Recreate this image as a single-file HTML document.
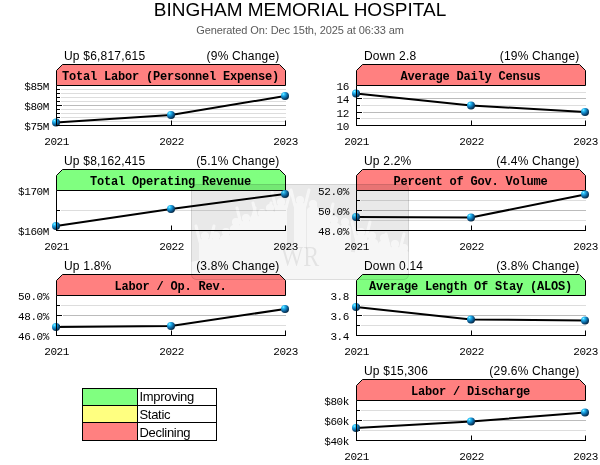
<!DOCTYPE html>
<html><head><meta charset="utf-8"><style>
html,body{margin:0;padding:0;background:#fff;width:600px;height:465px;overflow:hidden}
svg{display:block;will-change:transform}
.s12{font-family:"Liberation Sans",sans-serif;font-size:12px;letter-spacing:0.2px;fill:#000}
.m10{font-family:"Liberation Mono",monospace;font-size:11px;letter-spacing:-0.4px;fill:#000}
.hdr{font-family:"Liberation Mono",monospace;font-size:12px;letter-spacing:-0.2px;font-weight:bold;fill:#000}
.ttl{font-family:"Liberation Sans",sans-serif;font-size:19px;fill:#000}
.lg{font-family:"Liberation Sans",sans-serif;font-size:13px;letter-spacing:-0.3px;fill:#000}
.gen{font-family:"Liberation Sans",sans-serif;font-size:11px;letter-spacing:-0.1px;fill:#5a5a5a}
</style></head><body>
<svg width="600" height="465" viewBox="0 0 600 465">
<defs>
<radialGradient id="ball" cx="0.32" cy="0.3" r="0.8" fx="0.3" fy="0.25">
<stop offset="0" stop-color="#90ffff"/>
<stop offset="0.15" stop-color="#38ccff"/>
<stop offset="0.4" stop-color="#1590d0"/>
<stop offset="0.7" stop-color="#0a4f80"/>
<stop offset="1" stop-color="#001a30"/>
</radialGradient>
</defs>
<text class="ttl" x="300" y="15.7" text-anchor="middle">BINGHAM MEMORIAL HOSPITAL</text>
<text class="gen" x="300" y="33.5" text-anchor="middle">Generated On: Dec 15th, 2025 at 06:33 am</text>
<text class="s12" x="64" y="60">Up $6,817,615</text>
<text class="s12" x="279.5" y="60" text-anchor="end">(9% Change)</text>
<line x1="61" y1="89.5" x2="286" y2="89.5" stroke="#dddddd"/>
<line x1="56" y1="89.5" x2="60" y2="89.5" stroke="#000"/>
<line x1="61" y1="93.5" x2="286" y2="93.5" stroke="#dddddd"/>
<line x1="56" y1="93.5" x2="60" y2="93.5" stroke="#000"/>
<line x1="61" y1="97.5" x2="286" y2="97.5" stroke="#dddddd"/>
<line x1="56" y1="97.5" x2="60" y2="97.5" stroke="#000"/>
<line x1="61" y1="101.5" x2="286" y2="101.5" stroke="#dddddd"/>
<line x1="56" y1="101.5" x2="60" y2="101.5" stroke="#000"/>
<line x1="61" y1="109.5" x2="286" y2="109.5" stroke="#dddddd"/>
<line x1="56" y1="109.5" x2="60" y2="109.5" stroke="#000"/>
<line x1="61" y1="113.5" x2="286" y2="113.5" stroke="#dddddd"/>
<line x1="56" y1="113.5" x2="60" y2="113.5" stroke="#000"/>
<line x1="61" y1="117.5" x2="286" y2="117.5" stroke="#dddddd"/>
<line x1="56" y1="117.5" x2="60" y2="117.5" stroke="#000"/>
<line x1="61" y1="121.5" x2="286" y2="121.5" stroke="#dddddd"/>
<line x1="56" y1="121.5" x2="60" y2="121.5" stroke="#000"/>
<line x1="63" y1="105.5" x2="286" y2="105.5" stroke="#bbbbbb"/>
<line x1="56" y1="105.5" x2="62" y2="105.5" stroke="#000"/>
<path d="M56.5 70.5 L62.5 64.5 H279.5 L285.5 70.5 V85.5 H56.5 Z" fill="#ff8080" stroke="#000"/>
<text class="hdr" x="170.5" y="79.5" text-anchor="middle">Total Labor (Personnel Expense)</text>
<text class="m10" x="49" y="90" text-anchor="end">$85M</text>
<text class="m10" x="49" y="110" text-anchor="end">$80M</text>
<text class="m10" x="49" y="130" text-anchor="end">$75M</text>
<text class="m10" x="56.6" y="144.5" text-anchor="middle">2021</text>
<text class="m10" x="171.6" y="144.5" text-anchor="middle">2022</text>
<text class="m10" x="285.6" y="144.5" text-anchor="middle">2023</text>
<polyline points="56,122.5 171,115 285,96" fill="none" stroke="#000" stroke-width="2"/>
<circle cx="56" cy="122.5" r="4" fill="url(#ball)"/>
<circle cx="171" cy="115" r="4" fill="url(#ball)"/>
<circle cx="285" cy="96" r="4" fill="url(#ball)"/>
<path d="M56.5 85.5 V125.5 M56 125.5 H286 M171.5 125.5 V120.5 M285.5 125.5 V120.5" stroke="#000" fill="none"/>
<text class="s12" x="64" y="165">Up $8,162,415</text>
<text class="s12" x="279.5" y="165" text-anchor="end">(5.1% Change)</text>
<line x1="61" y1="210.5" x2="286" y2="210.5" stroke="#dddddd"/>
<line x1="56" y1="210.5" x2="60" y2="210.5" stroke="#000"/>
<path d="M56.5 175.5 L62.5 169.5 H279.5 L285.5 175.5 V190.5 H56.5 Z" fill="#80ff80" stroke="#000"/>
<text class="hdr" x="170.5" y="184.5" text-anchor="middle">Total Operating Revenue</text>
<text class="m10" x="49" y="195" text-anchor="end">$170M</text>
<text class="m10" x="49" y="235" text-anchor="end">$160M</text>
<text class="m10" x="56.6" y="249.5" text-anchor="middle">2021</text>
<text class="m10" x="171.6" y="249.5" text-anchor="middle">2022</text>
<text class="m10" x="285.6" y="249.5" text-anchor="middle">2023</text>
<polyline points="56,226 171,209 285,194" fill="none" stroke="#000" stroke-width="2"/>
<circle cx="56" cy="226" r="4" fill="url(#ball)"/>
<circle cx="171" cy="209" r="4" fill="url(#ball)"/>
<circle cx="285" cy="194" r="4" fill="url(#ball)"/>
<path d="M56.5 190.5 V230.5 M56 230.5 H286 M171.5 230.5 V225.5 M285.5 230.5 V225.5" stroke="#000" fill="none"/>
<text class="s12" x="64" y="270">Up 1.8%</text>
<text class="s12" x="279.5" y="270" text-anchor="end">(3.8% Change)</text>
<line x1="61" y1="305.5" x2="286" y2="305.5" stroke="#dddddd"/>
<line x1="56" y1="305.5" x2="60" y2="305.5" stroke="#000"/>
<line x1="61" y1="325.5" x2="286" y2="325.5" stroke="#dddddd"/>
<line x1="56" y1="325.5" x2="60" y2="325.5" stroke="#000"/>
<line x1="63" y1="315.5" x2="286" y2="315.5" stroke="#bbbbbb"/>
<line x1="56" y1="315.5" x2="62" y2="315.5" stroke="#000"/>
<path d="M56.5 280.5 L62.5 274.5 H279.5 L285.5 280.5 V295.5 H56.5 Z" fill="#ff8080" stroke="#000"/>
<text class="hdr" x="170.5" y="289.5" text-anchor="middle">Labor / Op. Rev.</text>
<text class="m10" x="49" y="300" text-anchor="end">50.0%</text>
<text class="m10" x="49" y="320" text-anchor="end">48.0%</text>
<text class="m10" x="49" y="340" text-anchor="end">46.0%</text>
<text class="m10" x="56.6" y="354.5" text-anchor="middle">2021</text>
<text class="m10" x="171.6" y="354.5" text-anchor="middle">2022</text>
<text class="m10" x="285.6" y="354.5" text-anchor="middle">2023</text>
<polyline points="56,327 171,326 285,309" fill="none" stroke="#000" stroke-width="2"/>
<circle cx="56" cy="327" r="4" fill="url(#ball)"/>
<circle cx="171" cy="326" r="4" fill="url(#ball)"/>
<circle cx="285" cy="309" r="4" fill="url(#ball)"/>
<path d="M56.5 295.5 V335.5 M56 335.5 H286 M171.5 335.5 V330.5 M285.5 335.5 V330.5" stroke="#000" fill="none"/>
<text class="s12" x="364" y="60">Down 2.8</text>
<text class="s12" x="579.5" y="60" text-anchor="end">(19% Change)</text>
<line x1="361" y1="92.5" x2="586" y2="92.5" stroke="#dddddd"/>
<line x1="356" y1="92.5" x2="360" y2="92.5" stroke="#000"/>
<line x1="361" y1="105.5" x2="586" y2="105.5" stroke="#dddddd"/>
<line x1="356" y1="105.5" x2="360" y2="105.5" stroke="#000"/>
<line x1="361" y1="118.5" x2="586" y2="118.5" stroke="#dddddd"/>
<line x1="356" y1="118.5" x2="360" y2="118.5" stroke="#000"/>
<line x1="363" y1="98.5" x2="586" y2="98.5" stroke="#bbbbbb"/>
<line x1="356" y1="98.5" x2="362" y2="98.5" stroke="#000"/>
<line x1="363" y1="112.5" x2="586" y2="112.5" stroke="#bbbbbb"/>
<line x1="356" y1="112.5" x2="362" y2="112.5" stroke="#000"/>
<path d="M356.5 70.5 L362.5 64.5 H579.5 L585.5 70.5 V85.5 H356.5 Z" fill="#ff8080" stroke="#000"/>
<text class="hdr" x="470.5" y="79.5" text-anchor="middle">Average Daily Census</text>
<text class="m10" x="349" y="90" text-anchor="end">16</text>
<text class="m10" x="349" y="103" text-anchor="end">14</text>
<text class="m10" x="349" y="117" text-anchor="end">12</text>
<text class="m10" x="349" y="130" text-anchor="end">10</text>
<text class="m10" x="356.6" y="144.5" text-anchor="middle">2021</text>
<text class="m10" x="471.6" y="144.5" text-anchor="middle">2022</text>
<text class="m10" x="585.6" y="144.5" text-anchor="middle">2023</text>
<polyline points="356,93.5 471,105.5 585,112" fill="none" stroke="#000" stroke-width="2"/>
<circle cx="356" cy="93.5" r="4" fill="url(#ball)"/>
<circle cx="471" cy="105.5" r="4" fill="url(#ball)"/>
<circle cx="585" cy="112" r="4" fill="url(#ball)"/>
<path d="M356.5 85.5 V125.5 M356 125.5 H586 M471.5 125.5 V120.5 M585.5 125.5 V120.5" stroke="#000" fill="none"/>
<text class="s12" x="364" y="165">Up 2.2%</text>
<text class="s12" x="579.5" y="165" text-anchor="end">(4.4% Change)</text>
<line x1="361" y1="200.5" x2="586" y2="200.5" stroke="#dddddd"/>
<line x1="356" y1="200.5" x2="360" y2="200.5" stroke="#000"/>
<line x1="361" y1="220.5" x2="586" y2="220.5" stroke="#dddddd"/>
<line x1="356" y1="220.5" x2="360" y2="220.5" stroke="#000"/>
<line x1="363" y1="210.5" x2="586" y2="210.5" stroke="#bbbbbb"/>
<line x1="356" y1="210.5" x2="362" y2="210.5" stroke="#000"/>
<path d="M356.5 175.5 L362.5 169.5 H579.5 L585.5 175.5 V190.5 H356.5 Z" fill="#ff8080" stroke="#000"/>
<text class="hdr" x="470.5" y="184.5" text-anchor="middle">Percent of Gov. Volume</text>
<text class="m10" x="349" y="195" text-anchor="end">52.0%</text>
<text class="m10" x="349" y="215" text-anchor="end">50.0%</text>
<text class="m10" x="349" y="235" text-anchor="end">48.0%</text>
<text class="m10" x="356.6" y="249.5" text-anchor="middle">2021</text>
<text class="m10" x="471.6" y="249.5" text-anchor="middle">2022</text>
<text class="m10" x="585.6" y="249.5" text-anchor="middle">2023</text>
<polyline points="356,217 471,217.5 585,194.5" fill="none" stroke="#000" stroke-width="2"/>
<circle cx="356" cy="217" r="4" fill="url(#ball)"/>
<circle cx="471" cy="217.5" r="4" fill="url(#ball)"/>
<circle cx="585" cy="194.5" r="4" fill="url(#ball)"/>
<path d="M356.5 190.5 V230.5 M356 230.5 H586 M471.5 230.5 V225.5 M585.5 230.5 V225.5" stroke="#000" fill="none"/>
<text class="s12" x="364" y="270">Down 0.14</text>
<text class="s12" x="579.5" y="270" text-anchor="end">(3.8% Change)</text>
<line x1="361" y1="305.5" x2="586" y2="305.5" stroke="#dddddd"/>
<line x1="356" y1="305.5" x2="360" y2="305.5" stroke="#000"/>
<line x1="361" y1="325.5" x2="586" y2="325.5" stroke="#dddddd"/>
<line x1="356" y1="325.5" x2="360" y2="325.5" stroke="#000"/>
<line x1="363" y1="315.5" x2="586" y2="315.5" stroke="#bbbbbb"/>
<line x1="356" y1="315.5" x2="362" y2="315.5" stroke="#000"/>
<path d="M356.5 280.5 L362.5 274.5 H579.5 L585.5 280.5 V295.5 H356.5 Z" fill="#80ff80" stroke="#000"/>
<text class="hdr" x="470.5" y="289.5" text-anchor="middle">Average Length Of Stay (ALOS)</text>
<text class="m10" x="349" y="300" text-anchor="end">3.8</text>
<text class="m10" x="349" y="320" text-anchor="end">3.6</text>
<text class="m10" x="349" y="340" text-anchor="end">3.4</text>
<text class="m10" x="356.6" y="354.5" text-anchor="middle">2021</text>
<text class="m10" x="471.6" y="354.5" text-anchor="middle">2022</text>
<text class="m10" x="585.6" y="354.5" text-anchor="middle">2023</text>
<polyline points="356,307 471,319.5 585,320.5" fill="none" stroke="#000" stroke-width="2"/>
<circle cx="356" cy="307" r="4" fill="url(#ball)"/>
<circle cx="471" cy="319.5" r="4" fill="url(#ball)"/>
<circle cx="585" cy="320.5" r="4" fill="url(#ball)"/>
<path d="M356.5 295.5 V335.5 M356 335.5 H586 M471.5 335.5 V330.5 M585.5 335.5 V330.5" stroke="#000" fill="none"/>
<text class="s12" x="364" y="375">Up $15,306</text>
<text class="s12" x="579.5" y="375" text-anchor="end">(29.6% Change)</text>
<line x1="361" y1="410.5" x2="586" y2="410.5" stroke="#dddddd"/>
<line x1="356" y1="410.5" x2="360" y2="410.5" stroke="#000"/>
<line x1="361" y1="430.5" x2="586" y2="430.5" stroke="#dddddd"/>
<line x1="356" y1="430.5" x2="360" y2="430.5" stroke="#000"/>
<line x1="363" y1="420.5" x2="586" y2="420.5" stroke="#bbbbbb"/>
<line x1="356" y1="420.5" x2="362" y2="420.5" stroke="#000"/>
<path d="M356.5 385.5 L362.5 379.5 H579.5 L585.5 385.5 V400.5 H356.5 Z" fill="#ff8080" stroke="#000"/>
<text class="hdr" x="470.5" y="394.5" text-anchor="middle">Labor / Discharge</text>
<text class="m10" x="349" y="405" text-anchor="end">$80k</text>
<text class="m10" x="349" y="425" text-anchor="end">$60k</text>
<text class="m10" x="349" y="445" text-anchor="end">$40k</text>
<text class="m10" x="356.6" y="459.5" text-anchor="middle">2021</text>
<text class="m10" x="471.6" y="459.5" text-anchor="middle">2022</text>
<text class="m10" x="585.6" y="459.5" text-anchor="middle">2023</text>
<polyline points="356,428 471,421.5 585,412.5" fill="none" stroke="#000" stroke-width="2"/>
<circle cx="356" cy="428" r="4" fill="url(#ball)"/>
<circle cx="471" cy="421.5" r="4" fill="url(#ball)"/>
<circle cx="585" cy="412.5" r="4" fill="url(#ball)"/>
<path d="M356.5 400.5 V440.5 M356 440.5 H586 M471.5 440.5 V435.5 M585.5 440.5 V435.5" stroke="#000" fill="none"/>

<rect x="82.5" y="388.5" width="134" height="52" fill="#fff" stroke="#000"/>
<rect x="82.5" y="388.5" width="55" height="17" fill="#80ff80" stroke="#000"/>
<rect x="82.5" y="405.5" width="55" height="17" fill="#ffff80" stroke="#000"/>
<rect x="82.5" y="422.5" width="55" height="18" fill="#ff8080" stroke="#000"/>
<line x1="82" y1="405.5" x2="217" y2="405.5" stroke="#000"/>
<line x1="82" y1="422.5" x2="217" y2="422.5" stroke="#000"/>
<text class="lg" x="139.5" y="401">Improving</text>
<text class="lg" x="139.5" y="418.5">Static</text>
<text class="lg" x="139.5" y="436.5">Declining</text>


<clipPath id="wmc"><rect x="191" y="184" width="218" height="96" rx="5"/></clipPath>
<mask id="wmm" maskUnits="userSpaceOnUse" x="185" y="180" width="230" height="105">
<rect x="185" y="180" width="230" height="105" fill="#fff"/>
<g fill="#000">
<circle cx="205" cy="236" r="4"/>
<rect x="199" y="239" width="12" height="54" rx="4"/>
<path d="M200 242 L196 226 M210 242 L214 226" stroke="#000" stroke-width="3" stroke-linecap="round"/>
<circle cx="216" cy="236" r="4"/>
<rect x="210" y="239" width="12" height="54" rx="4"/>
<circle cx="226" cy="232" r="4"/>
<rect x="220" y="235" width="12" height="58" rx="4"/>
<circle cx="236" cy="222" r="4"/>
<rect x="230" y="225" width="12" height="68" rx="4"/>
<circle cx="246" cy="218" r="4"/>
<rect x="240" y="221" width="12" height="72" rx="4"/>
<path d="M241 224 L237 208 M251 224 L255 208" stroke="#000" stroke-width="3" stroke-linecap="round"/>
<circle cx="254" cy="219" r="4"/>
<rect x="248" y="222" width="12" height="71" rx="4"/>
<circle cx="262" cy="213" r="4"/>
<rect x="256" y="216" width="12" height="77" rx="4"/>
<path d="M257 219 L253 203 M267 219 L271 203" stroke="#000" stroke-width="3" stroke-linecap="round"/>
<circle cx="270" cy="208" r="4"/>
<rect x="264" y="211" width="12" height="82" rx="4"/>
<circle cx="281" cy="202" r="4"/>
<rect x="275" y="205" width="12" height="88" rx="4"/>
<path d="M276 208 L272 192 M286 208 L290 192" stroke="#000" stroke-width="3" stroke-linecap="round"/>
<circle cx="300" cy="200" r="4"/>
<rect x="294" y="203" width="12" height="90" rx="4"/>
<path d="M295 206 L291 190 M305 206 L309 190" stroke="#000" stroke-width="3" stroke-linecap="round"/>
<circle cx="313" cy="204" r="4"/>
<rect x="307" y="207" width="12" height="86" rx="4"/>
<circle cx="324" cy="214" r="4"/>
<rect x="318" y="217" width="12" height="76" rx="4"/>
<path d="M319 220 L315 204 M329 220 L333 204" stroke="#000" stroke-width="3" stroke-linecap="round"/>
<circle cx="334" cy="220" r="4"/>
<rect x="328" y="223" width="12" height="70" rx="4"/>
<circle cx="345" cy="222" r="4"/>
<rect x="339" y="225" width="12" height="68" rx="4"/>
<circle cx="361" cy="232" r="4"/>
<rect x="355" y="235" width="12" height="58" rx="4"/>
<path d="M356 238 L352 222 M366 238 L370 222" stroke="#000" stroke-width="3" stroke-linecap="round"/>
<circle cx="372" cy="236" r="4"/>
<rect x="366" y="239" width="12" height="54" rx="4"/>
<circle cx="384" cy="238" r="4"/>
<rect x="378" y="241" width="12" height="52" rx="4"/>
<circle cx="395" cy="244" r="4"/>
<rect x="389" y="247" width="12" height="46" rx="4"/>
<path d="M390 250 L386 234 M400 250 L404 234" stroke="#000" stroke-width="3" stroke-linecap="round"/>
<circle cx="404" cy="248" r="4"/>
<rect x="398" y="251" width="12" height="42" rx="4"/>
<path d="M191 262 Q300 236 409 262 V285 H191 Z"/>
</g>
</mask>
<g clip-path="url(#wmc)">
<rect x="191" y="184" width="218" height="96" fill="rgba(0,0,0,0.035)"/>
<rect x="191" y="184" width="218" height="96" fill="rgba(0,0,0,0.055)" mask="url(#wmm)"/>
<text x="300" y="266" text-anchor="middle" transform="translate(300 0) scale(0.8 1) translate(-300 0)" style="font-family:'Liberation Serif',serif;font-size:30px;fill:rgba(0,0,0,0.08)">WR</text>
</g>
<rect x="191.5" y="184.5" width="217" height="95" rx="5" fill="none" stroke="rgba(0,0,0,0.1)"/>

</svg>
</body></html>
